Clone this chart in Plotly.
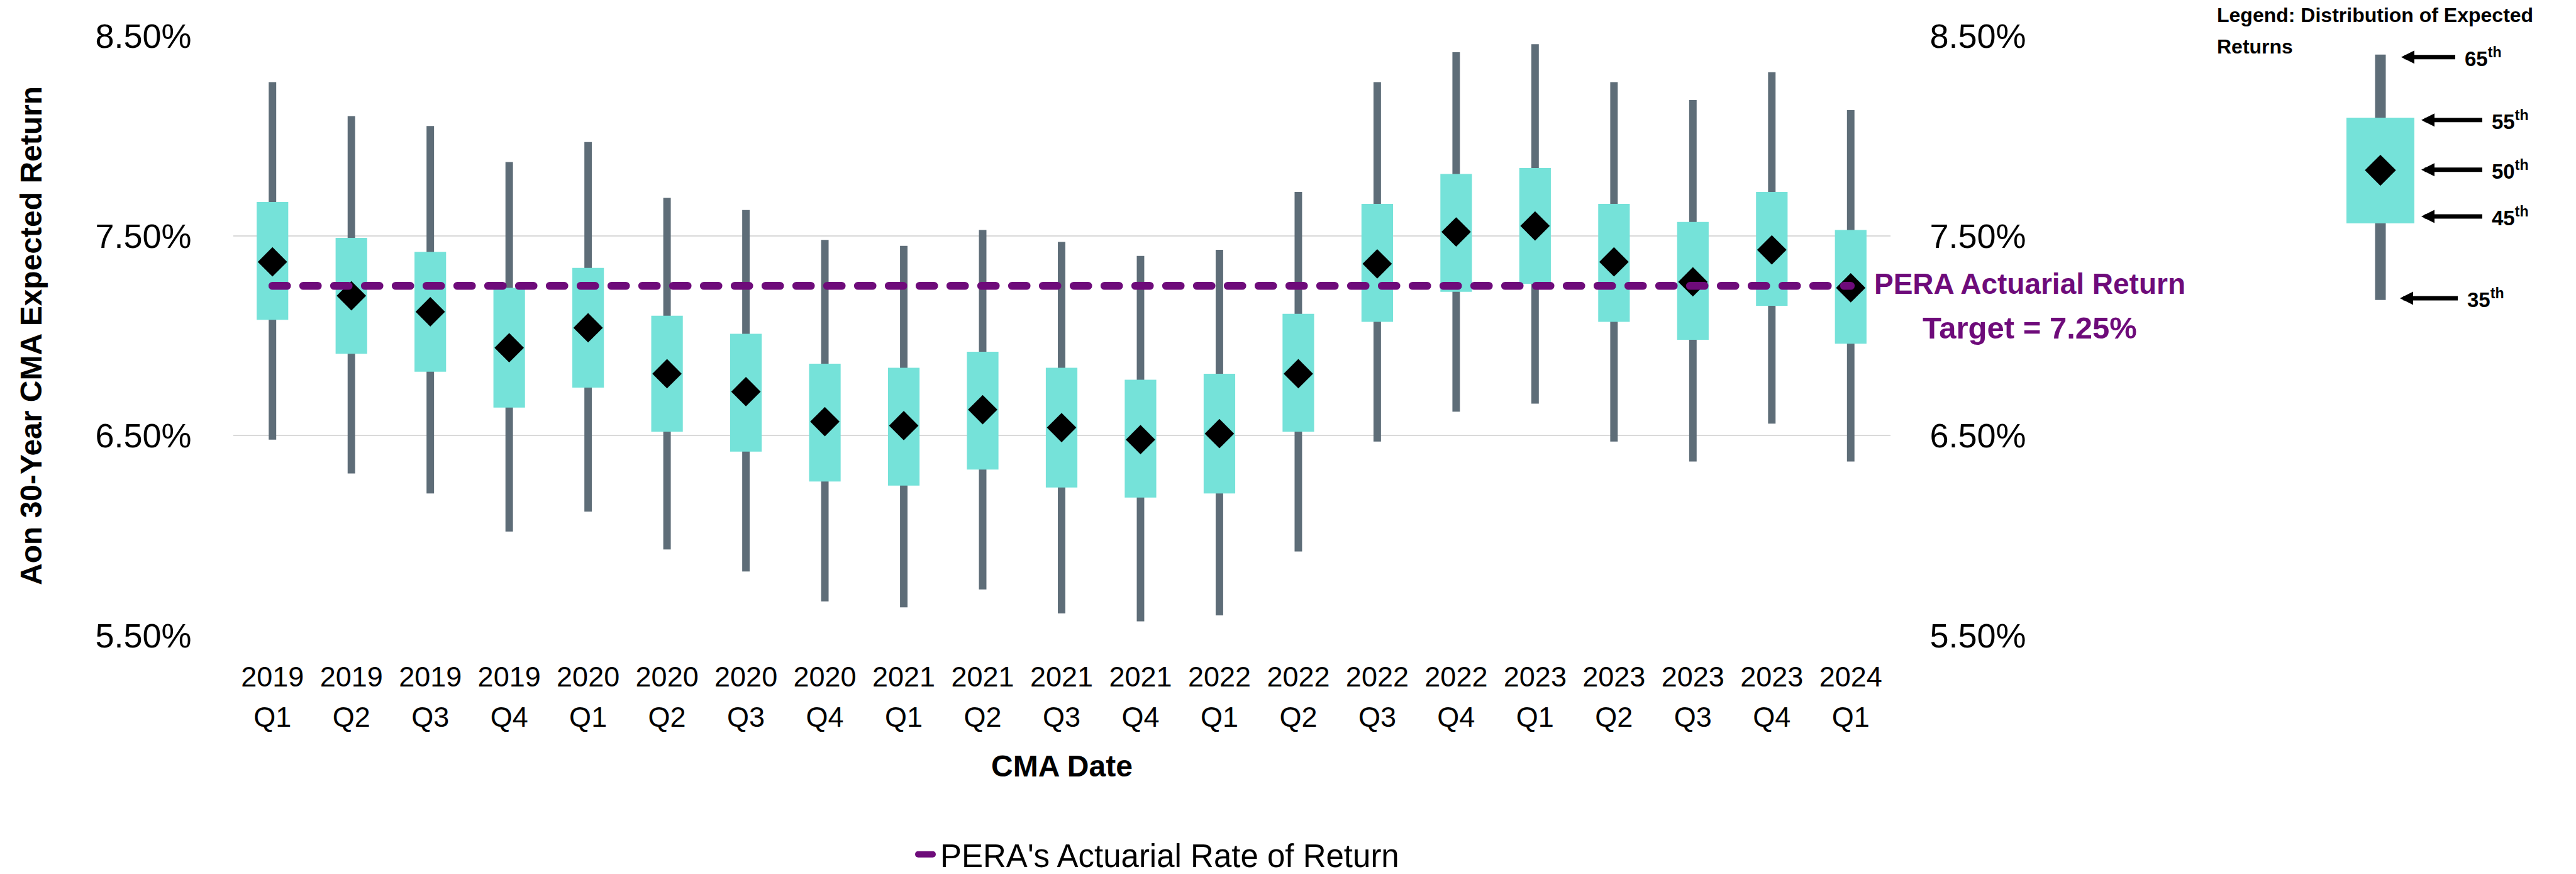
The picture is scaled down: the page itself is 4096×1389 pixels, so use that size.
import plotly.graph_objects as go

# ---------------- data ----------------
years = ["2019", "2019", "2019", "2019", "2020", "2020", "2020", "2020",
         "2021", "2021", "2021", "2021", "2022", "2022", "2022", "2022",
         "2023", "2023", "2023", "2023", "2024"]
quarters = ["Q1", "Q2", "Q3", "Q4", "Q1", "Q2", "Q3", "Q4",
            "Q1", "Q2", "Q3", "Q4", "Q1", "Q2", "Q3", "Q4",
            "Q1", "Q2", "Q3", "Q4", "Q1"]
categories = [y + " " + q for y, q in zip(years, quarters)]
p65 = [8.27, 8.10, 8.05, 7.87, 7.97, 7.69, 7.63, 7.48, 7.45, 7.53, 7.47,
       7.40, 7.43, 7.72, 8.27, 8.42, 8.46, 8.27, 8.18, 8.32, 8.13]
p55 = [7.67, 7.49, 7.42, 7.24, 7.34, 7.10, 7.01, 6.86, 6.84, 6.92, 6.84,
       6.78, 6.81, 7.11, 7.66, 7.81, 7.84, 7.66, 7.57, 7.72, 7.53]
p50 = [7.37, 7.20, 7.12, 6.94, 7.04, 6.81, 6.72, 6.57, 6.55, 6.63, 6.54,
       6.48, 6.51, 6.81, 7.36, 7.52, 7.55, 7.37, 7.27, 7.43, 7.24]
p45 = [7.08, 6.91, 6.82, 6.64, 6.74, 6.52, 6.42, 6.27, 6.25, 6.33, 6.24,
       6.19, 6.21, 6.52, 7.07, 7.22, 7.26, 7.07, 6.98, 7.15, 6.96]
p35 = [6.48, 6.31, 6.21, 6.02, 6.12, 5.93, 5.82, 5.67, 5.64, 5.73, 5.61,
       5.57, 5.60, 5.92, 6.47, 6.62, 6.66, 6.47, 6.37, 6.56, 6.37]
target_return = 7.25
y_tick_values = [5.5, 6.5, 7.5, 8.5]
y_tick_labels = ["5.50%", "6.50%", "7.50%", "8.50%"]
key_percentiles = ["65", "55", "50", "45", "35"]

# ---------------- styling ----------------
W, H = 4096, 1389
FONT = "Liberation Sans, Arial, Helvetica, sans-serif"
WHISKER = "#5E6D78"
BOX = "#75E2D9"
PURPLE = "#6E0B7A"
GRID = "#D9D9D9"

X_DOM = [370.5 / W, 3005.5 / W]
Y_DOM = [1 - 1009.7 / H, 1 - 57.5 / H]

fig = go.Figure()

# whiskers (35th - 65th)
fig.add_trace(go.Bar(
    x=categories, base=p35, y=[a - b for a, b in zip(p65, p35)],
    width=0.095, marker=dict(color=WHISKER, line=dict(width=0)),
    showlegend=False, hoverinfo="skip"))
# boxes (45th - 55th)
fig.add_trace(go.Bar(
    x=categories, base=p45, y=[a - b for a, b in zip(p55, p45)],
    width=0.40, marker=dict(color=BOX, line=dict(width=0)),
    showlegend=False, hoverinfo="skip"))
# medians
fig.add_trace(go.Scatter(
    x=categories, y=p50, mode="markers",
    marker=dict(symbol="diamond", size=36, color="black", line=dict(width=0)),
    showlegend=False, hoverinfo="skip"))
# target line
fig.add_trace(go.Scatter(
    x=categories, y=[target_return] * len(categories), mode="lines",
    line=dict(color=PURPLE, width=12.7, dash="23px,26px"),
    name="PERA's Actuarial Rate of Return", showlegend=True, hoverinfo="skip"))
# invisible trace carrying the quarter-row axis and the right-hand axis
fig.add_trace(go.Scatter(
    x=categories, y=p50, xaxis="x2", yaxis="y2", mode="markers",
    marker=dict(opacity=0), showlegend=False, hoverinfo="skip"))

# ---------------- legend key (top right, pixel-unit inset axis) ----------------
KEY_X = 3785
key_levels = {"65": 86.7, "55": 187.0, "50": 270.6, "45": 355.0, "35": 476.7}
fig.add_trace(go.Bar(
    x=[KEY_X], base=[key_levels["65"]], y=[key_levels["35"] - key_levels["65"]],
    width=17, marker=dict(color=WHISKER, line=dict(width=0)),
    xaxis="x3", yaxis="y3", showlegend=False, hoverinfo="skip"))
fig.add_trace(go.Bar(
    x=[KEY_X], base=[key_levels["55"]], y=[key_levels["45"] - key_levels["55"]],
    width=108, marker=dict(color=BOX, line=dict(width=0)),
    xaxis="x3", yaxis="y3", showlegend=False, hoverinfo="skip"))
fig.add_trace(go.Scatter(
    x=[KEY_X], y=[key_levels["50"]], mode="markers",
    marker=dict(symbol="diamond", size=38, color="black", line=dict(width=0)),
    xaxis="x3", yaxis="y3", showlegend=False, hoverinfo="skip"))

arrow_tip_x = {"65": 3818, "55": 3850, "50": 3850, "45": 3850, "35": 3816}
arrow_y = {"65": 90.8, "55": 190.7, "50": 269.7, "45": 344.0, "35": 474.0}
label_x = {"65": 3918, "55": 3961, "50": 3961, "45": 3961, "35": 3922}
PAD = 14
annotations = []
for p in key_percentiles:
    annotations.append(dict(
        xref="x3", yref="y3", x=arrow_tip_x[p], y=arrow_y[p],
        axref="pixel", ayref="pixel",
        ax=label_x[p] - PAD - arrow_tip_x[p], ay=0,
        xanchor="left", yanchor="middle", borderpad=PAD,
        text=p + "<sup>th</sup>", showarrow=True,
        arrowhead=2, arrowsize=0.6, arrowwidth=7, arrowcolor="black",
        font=dict(family=FONT, size=33, color="black", weight="bold")))

annotations += [
    dict(xref="paper", yref="paper", x=3523 / W, y=1 - 24 / H,
         xanchor="left", yanchor="middle", showarrow=False,
         text="Legend: Distribution of Expected",
         font=dict(family=FONT, size=32, color="black", weight="bold")),
    dict(xref="paper", yref="paper", x=3523 / W, y=1 - 73.6 / H,
         xanchor="left", yanchor="middle", showarrow=False,
         text="Returns",
         font=dict(family=FONT, size=32, color="black", weight="bold")),
    # target callout
    dict(xref="paper", yref="y", x=3227 / W, y=target_return, yshift=3,
         xanchor="center", yanchor="middle", showarrow=False,
         text="PERA Actuarial Return",
         font=dict(family=FONT, size=46, color=PURPLE, weight="bold")),
    dict(xref="paper", yref="paper", x=3227 / W, y=1 - 523 / H, yshift=2,
         xanchor="center", yanchor="middle", showarrow=False,
         text="Target = 7.25%",
         font=dict(family=FONT, size=49, color=PURPLE, weight="bold")),
    # axis titles
    dict(xref="paper", yref="paper", x=49 / W, y=1 - 534 / H,
         xanchor="center", yanchor="middle", showarrow=False, textangle=-90,
         text="Aon 30-Year CMA Expected Return",
         font=dict(family=FONT, size=48, color="black", weight="bold")),
    dict(xref="paper", yref="paper", x=(X_DOM[0] + X_DOM[1]) / 2, y=1 - 1217 / H,
         xanchor="center", yanchor="middle", showarrow=False,
         text="CMA Date",
         font=dict(family=FONT, size=48, color="black", weight="bold")),
]

tick_font_x = dict(family=FONT, size=45, color="black")
tick_font_y = dict(family=FONT, size=54, color="black")

fig.update_layout(
    width=W, height=H, autosize=False,
    margin=dict(l=0, r=0, t=0, b=0, pad=0, autoexpand=False),
    paper_bgcolor="white", plot_bgcolor="rgba(0,0,0,0)",
    font=dict(family=FONT, color="black"),
    barmode="overlay",
    showlegend=True,
    legend=dict(orientation="h", x=1455 / W, y=1 - 1358 / H,
                xanchor="left", yanchor="middle",
                font=dict(family=FONT, size=51, color="black"),
                bgcolor="rgba(0,0,0,0)"),
    xaxis=dict(domain=X_DOM, type="category", range=[-0.5, 20.5],
               categoryorder="array", categoryarray=categories,
               tickvals=categories, ticktext=years,
               showgrid=False, zeroline=False, showline=False, ticks="",
               tickfont=tick_font_x, ticklabelstandoff=35, anchor="y",
               automargin=False),
    xaxis2=dict(overlaying="x", side="bottom", anchor="y", type="category",
                range=[-0.5, 20.5], categoryorder="array",
                categoryarray=categories, tickvals=categories,
                ticktext=quarters, showgrid=False, zeroline=False,
                showline=False, ticks="", tickfont=tick_font_x,
                ticklabelstandoff=99, automargin=False),
    yaxis=dict(domain=Y_DOM, range=[5.5, 8.5], tickvals=y_tick_values,
               ticktext=y_tick_labels, showgrid=True, gridcolor=GRID,
               gridwidth=2, zeroline=False, showline=False, ticks="",
               tickfont=tick_font_y, ticklabelstandoff=65, anchor="x",
               automargin=False),
    yaxis2=dict(overlaying="y", side="right", anchor="x", range=[5.5, 8.5],
                tickvals=y_tick_values, ticktext=y_tick_labels,
                showgrid=False, zeroline=False, showline=False, ticks="",
                tickfont=tick_font_y, ticklabelstandoff=62, automargin=False),
    xaxis3=dict(domain=[0, 1], range=[0, W], visible=False, anchor="y3",
                fixedrange=True, automargin=False),
    yaxis3=dict(domain=[0, 1], range=[H, 0], visible=False, anchor="x3",
                fixedrange=True, automargin=False),
    annotations=annotations,
)

post = ("var s=document.createElement('style');"
        "s.innerHTML='body{margin:0;overflow:hidden}"
        ".scatterlayer .js-line,.legendlines path{stroke-linecap:round}';"
        "document.head.appendChild(s);")
fig.write_html("out.html", post_script=post, config={"displayModeBar": False})
